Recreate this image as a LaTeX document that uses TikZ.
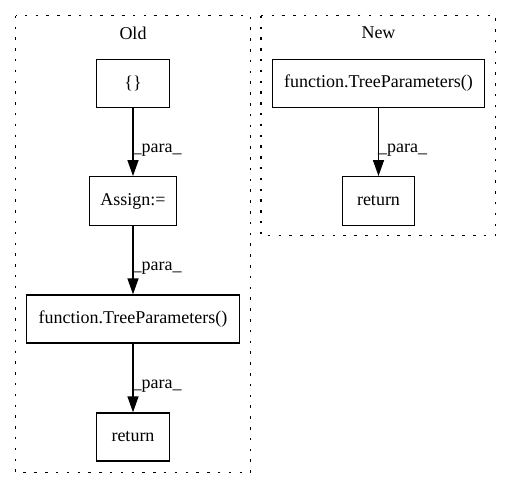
\documentclass[tikz,border=0pt]{standalone}
\usepackage{fontspec}
\setmainfont{Liberation Serif}
\usetikzlibrary{arrows.meta}
\begin{document}
\begin{tikzpicture}[x=1pt,y=-1pt,
  font=\fontsize{18}{20}\selectfont,
  box/.style={draw,line width=1.3pt,inner sep=0pt,minimum height=48pt,anchor=center},
  cluster/.style={draw,line width=1.3pt,dash pattern=on 2.5pt off 8.3pt},
  flow/.style={draw,line width=1.3pt,-{Triangle[length=16pt,width=11pt]}},
  lbl/.style={anchor=base west,inner sep=0pt}]
\useasboundingbox (0,0) rectangle (512,488);
\draw[cluster] (15.7,15.7) rectangle (250.7,472.3);
\draw[cluster] (261,15.7) rectangle (495.7,235.7);
\node (oldlbl) at (133,33) {Old};
\node (newlbl) at (378.5,33) {New};
\node[box,minimum width=72.6pt] (brace) at (133,83.3) {\{\}};
\node[box,minimum width=87.4pt,minimum height=48.6pt] (assign) at (133,201) {Assign:=};
\node[box,minimum width=212.6pt] (fold) at (133,319) {function.TreeParameters()};
\node[box,minimum width=72.6pt] (rold) at (133,437) {return};
\node[box,minimum width=212.3pt] (fnew) at (378.5,83.3) {function.TreeParameters()};
\node[box,minimum width=71.6pt,minimum height=48.6pt] (rnew) at (378.5,201) {return};
\draw[flow] (brace) -- (assign);
\draw[flow] (assign) -- (fold);
\draw[flow] (fold) -- (rold);
\draw[flow] (fnew) -- (rnew);
\node[lbl] (l1) at (132.4,152) {\_para\_};
\node[lbl] (l2) at (132.4,270) {\_para\_};
\node[lbl] (l3) at (132.4,388) {\_para\_};
\node[lbl] (l4) at (377.9,152) {\_para\_};
\end{tikzpicture}
\end{document}
